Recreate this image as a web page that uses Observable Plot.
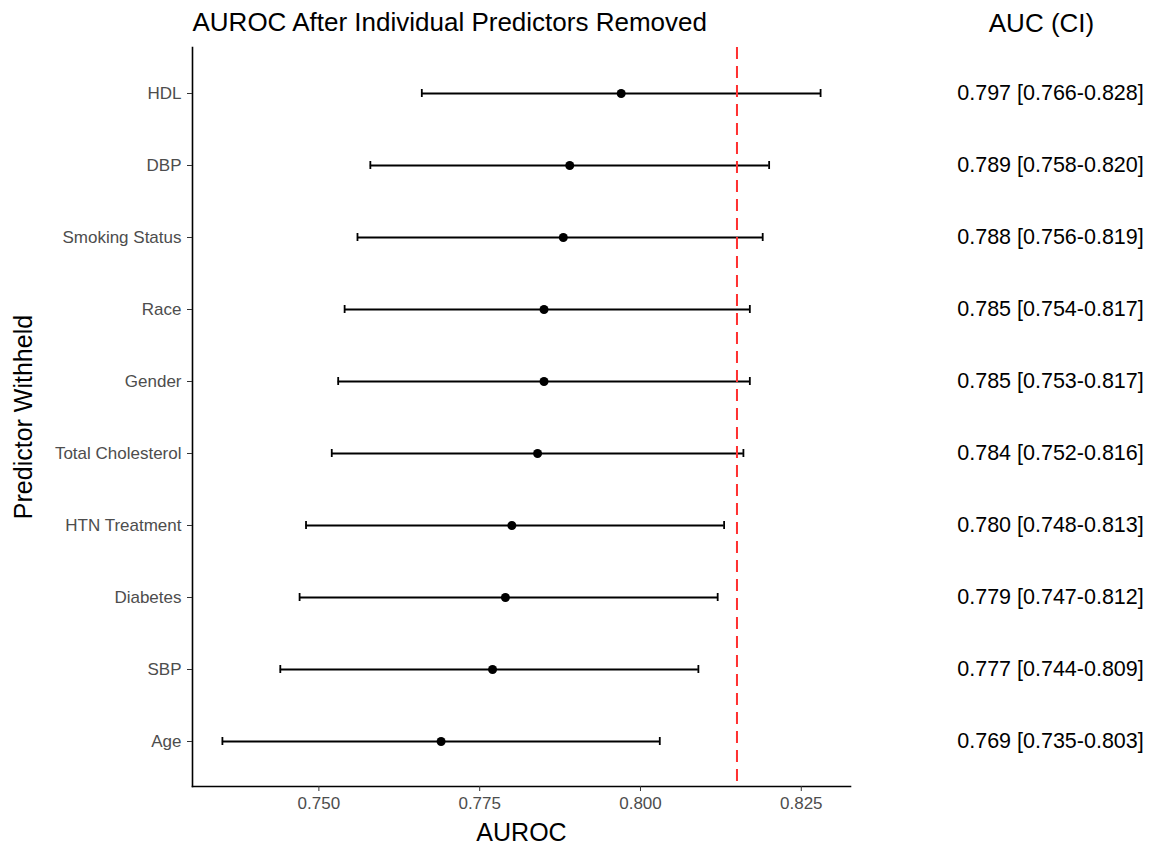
<!DOCTYPE html>
<html>
<head>
<meta charset="utf-8">
<script src="https://cdn.jsdelivr.net/npm/d3@7"></script>
<script src="https://cdn.jsdelivr.net/npm/@observablehq/plot@0.6"></script>
<style>
  html, body { margin: 0; padding: 0; background: #fff; }
</style>
</head>
<body>
<div id="chart"></div>
<script>
const predictors = ["HDL", "DBP", "Smoking Status", "Race", "Gender", "Total Cholesterol", "HTN Treatment", "Diabetes", "SBP", "Age"];
const auc   = [0.797, 0.789, 0.788, 0.785, 0.785, 0.784, 0.780, 0.779, 0.777, 0.769];
const ciLow = [0.766, 0.758, 0.756, 0.754, 0.753, 0.752, 0.748, 0.747, 0.744, 0.735];
const ciHigh= [0.828, 0.820, 0.819, 0.817, 0.817, 0.816, 0.813, 0.812, 0.809, 0.803];
const fullModelAuc = 0.815;
const xTicks = [0.750, 0.775, 0.800, 0.825];
const titleText = "AUROC After Individual Predictors Removed";
const tableHeader = "AUC (CI)";
const xLabel = "AUROC";
const yLabel = "Predictor Withheld";

const data = predictors.map((name, i) => ({name, auc: auc[i], lo: ciLow[i], hi: ciHigh[i]}));
const f3 = d3.format(".3f");

// ggplot-like 5% expansion
const xmin = d3.min(ciLow), xmax = d3.max([...ciHigh, fullModelAuc]);
const pad = (xmax - xmin) * 0.05;
const xDomain = [xmin - pad, xmax + pad];

const chart = Plot.plot({
  width: 1160,
  height: 846,
  marginLeft: 192,
  marginRight: 310,
  marginTop: 47,
  marginBottom: 60,
  style: {fontFamily: "'Liberation Sans', Arial, Helvetica, sans-serif", background: "#fff", color: "#000"},
  x: {domain: xDomain},
  y: {type: "band", domain: predictors, paddingInner: 0, paddingOuter: 0.1},
  marks: [
    Plot.frame({anchor: "left", stroke: "#000", strokeWidth: 1.6}),
    Plot.frame({anchor: "bottom", stroke: "#000", strokeWidth: 1.6}),
    Plot.axisX({ticks: xTicks, tickFormat: f3, tickSize: 5, tickPadding: 5, stroke: "#333", fill: "#4d4d4d", fontSize: 17, label: null}),
    Plot.axisY({tickSize: 5, tickPadding: 6, stroke: "#333", fill: "#4d4d4d", fontSize: 17, label: null}),
    Plot.ruleY(data, {y: "name", x1: "lo", x2: "hi", stroke: "#000", strokeWidth: 1.8}),
    Plot.tickX(data, {y: "name", x: "lo", stroke: "#000", strokeWidth: 1.8, insetTop: 32, insetBottom: 32}),
    Plot.tickX(data, {y: "name", x: "hi", stroke: "#000", strokeWidth: 1.8, insetTop: 32, insetBottom: 32}),
    Plot.dot(data, {y: "name", x: "auc", r: 4.5, fill: "#000", stroke: null}),
    Plot.ruleX([fullModelAuc], {stroke: "#ff3030", strokeWidth: 2, strokeDasharray: "12,7"}),
    Plot.text(data, {y: "name", text: d => `${f3(d.auc)} [${f3(d.lo)}-${f3(d.hi)}]`, frameAnchor: "right", dx: 200, textAnchor: "middle", fontSize: 21.5, fill: "#000"}),
    Plot.text([tableHeader], {frameAnchor: "top-right", dx: 191, dy: -24, textAnchor: "middle", lineAnchor: "middle", fontSize: 26, fill: "#000"}),
    Plot.text([titleText], {frameAnchor: "top-left", dy: -25, textAnchor: "start", lineAnchor: "middle", fontSize: 26, fill: "#000"}),
    Plot.text([xLabel], {frameAnchor: "bottom", dy: 46, textAnchor: "middle", lineAnchor: "middle", fontSize: 25, fill: "#000"}),
    Plot.text([yLabel], {frameAnchor: "left", dx: -169, rotate: -90, textAnchor: "middle", lineAnchor: "middle", fontSize: 25, fill: "#000"})
  ]
});
document.getElementById("chart").appendChild(chart);
</script>
</body>
</html>
